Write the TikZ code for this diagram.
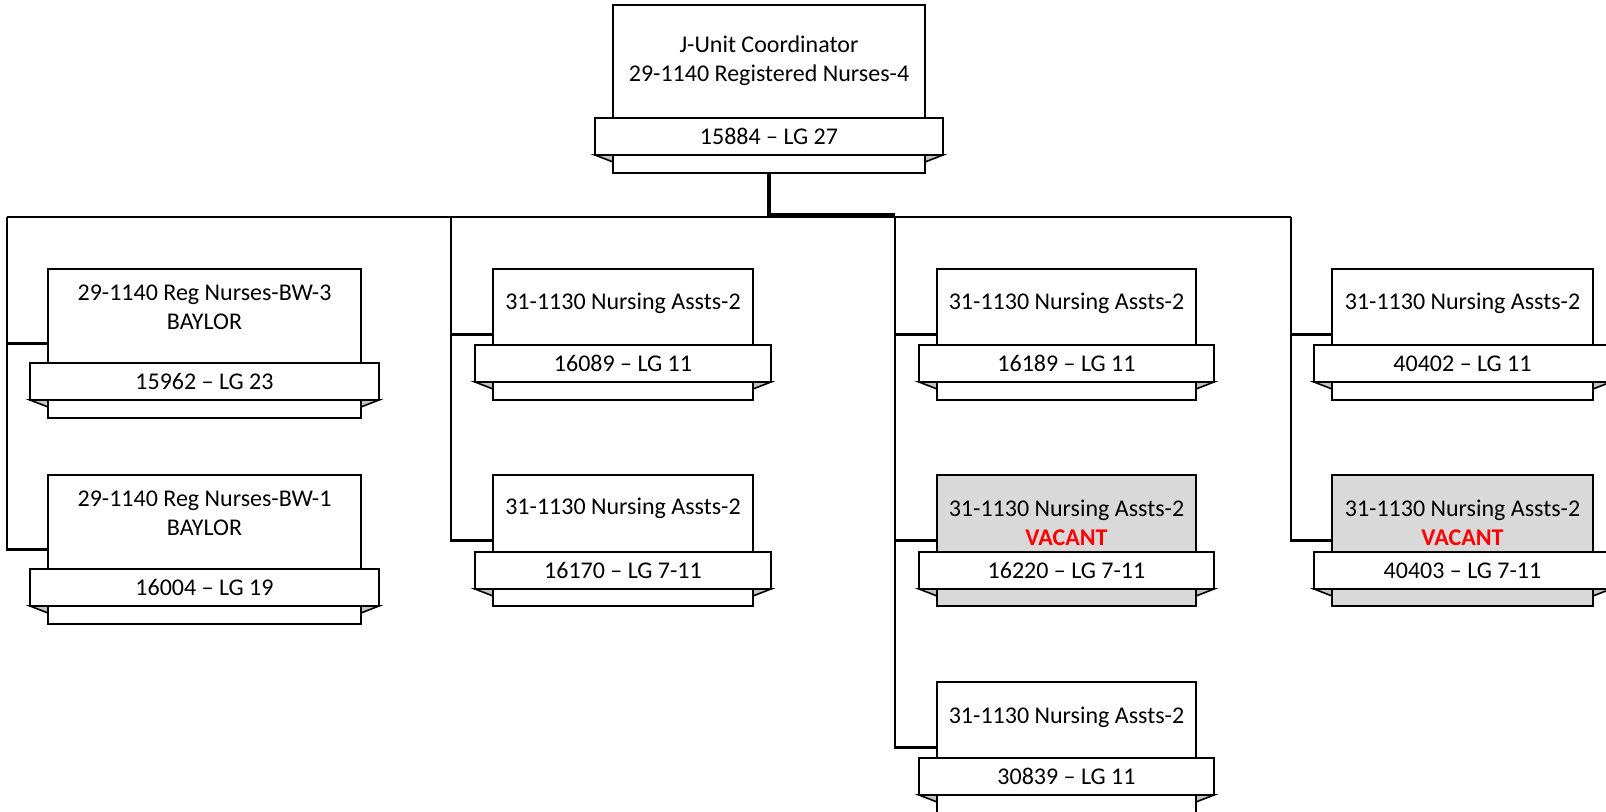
\documentclass[tikz,border=0pt]{standalone}
\usepackage{fontspec}
\setmainfont{Carlito}
\usetikzlibrary{fit}
\definecolor{vacfill}{HTML}{D9D9D9}
\definecolor{foldfill}{HTML}{C4C4C4}
\definecolor{vacred}{HTML}{FF0000}
\tikzset{
  boxst/.style={draw=black, line width=1.5pt, inner sep=0pt, outer sep=0pt},
  ribst/.style={draw=black, fill=white, line width=1.5pt, inner sep=0pt, outer sep=0pt},
  foldst/.style={draw=black, fill=foldfill, line width=1.2pt, line join=miter},
  txt/.style={font=\fontsize{18}{22}\selectfont, align=center, inner sep=0pt},
  conn/.style={draw=black, line width=1.7pt},
  trunk/.style={draw=black, line width=2.4pt},
}
% #1 name, #2 boxL, #3 boxR, #4 top, #5 bottom, #6 ribbon top, #7 ribbon bottom, #8 fill, #9 ribbon text
\newcommand\orgbox[9]{%
  \coordinate (#1-nw) at (#2,#4);
  \coordinate (#1-se) at (#3,#5);
  \node[boxst, fill=#8, fit=(#1-nw)(#1-se)] (#1) {};
  \coordinate (#1-rnw) at ({#2-18},#6);
  \coordinate (#1-rse) at ({#3+18},#7);
  \node[ribst, fit=(#1-rnw)(#1-rse)] (#1-rib) {};
  \filldraw[foldst] (#1-rib.south west) -- (#1.west |- #1-rib.south) -- ++(0,7) -- cycle;
  \filldraw[foldst] (#1-rib.south east) -- (#1.east |- #1-rib.south) -- ++(0,7) -- cycle;
  \node[txt] (#1-code) at (#1-rib.center) {#9};
}
\begin{document}
\begin{tikzpicture}[x=0.75pt, y=-0.75pt]
\useasboundingbox (0,0) rectangle (1606,812);
\clip (0,0) rectangle (1606,812);
\fill[white] (0,0) rectangle (1606,812);

% bus coordinates
\coordinate (busA) at (7,217);
\coordinate (busB) at (451,217);
\coordinate (busC) at (895,217);
\coordinate (busD) at (1291,217);
\coordinate (busM) at (769,214.5);

% boxes
\orgbox{tp}{613}{925}{5}{173}{118}{155}{white}{15884 – LG 27}
\node[txt] (tp-t) at (769,60.5) {J-Unit Coordinator\\29-1140 Registered Nurses-4};

\orgbox{a1}{48}{361}{269}{418}{363}{400}{white}{15962 – LG 23}
\node[txt] (a1-t) at (204.5,307) {29-1140 Reg Nurses-BW-3\\BAYLOR};
\orgbox{a2}{48}{361}{475}{624}{569}{606}{white}{16004 – LG 19}
\node[txt] (a2-t) at (204.5,513) {29-1140 Reg Nurses-BW-1\\BAYLOR};

\orgbox{b1}{493}{753}{269}{400}{345}{382}{white}{16089 – LG 11}
\node[txt] (b1-t) at (623,303) {31-1130 Nursing Assts-2};
\orgbox{b2}{493}{753}{475}{606}{552}{589}{white}{16170 – LG 7-11}
\node[txt] (b2-t) at (623,508) {31-1130 Nursing Assts-2};

\orgbox{c1}{937}{1196}{269}{400}{345}{382}{white}{16189 – LG 11}
\node[txt] (c1-t) at (1066.5,303) {31-1130 Nursing Assts-2};
\orgbox{c2}{937}{1196}{475}{606}{552}{589}{vacfill}{16220 – LG 7-11}
\node[txt] (c2-t) at (1066.5,522.5) {31-1130 Nursing Assts-2\\{\bfseries\color{vacred}VACANT}};
\orgbox{c3}{937}{1196}{682}{813}{758}{795}{white}{30839 – LG 11}
\node[txt] (c3-t) at (1066.5,717) {31-1130 Nursing Assts-2};

\orgbox{d1}{1332}{1593}{269}{400}{345}{382}{white}{40402 – LG 11}
\node[txt] (d1-t) at (1462.5,303) {31-1130 Nursing Assts-2};
\orgbox{d2}{1332}{1593}{475}{606}{552}{589}{vacfill}{40403 – LG 7-11}
\node[txt] (d2-t) at (1462.5,522.5) {31-1130 Nursing Assts-2\\{\bfseries\color{vacred}VACANT}};

% connectors
\draw[trunk] (tp.south) -- (tp.south |- busA);
\draw[conn] (busA) -- (busD);
\draw[conn] (busM) -- (busM -| busC);
\draw[conn] (busA) |- (a2.west);
\draw[conn] (busA) |- (a1.west);
\draw[conn] (busB) |- (b2.west);
\draw[conn] (busB) |- (b1.west);
\draw[conn] (busC) |- (c3.west);
\draw[conn] (busC) |- (c2.west);
\draw[conn] (busC) |- (c1.west);
\draw[conn] (busD) |- (d2.west);
\draw[conn] (busD) |- (d1.west);
\end{tikzpicture}
\end{document}
